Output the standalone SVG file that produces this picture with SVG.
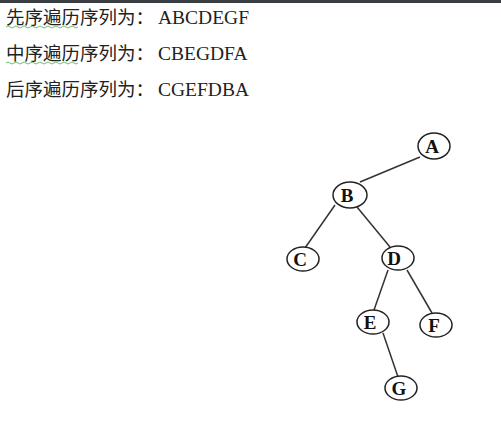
<svg xmlns="http://www.w3.org/2000/svg" width="501" height="448" viewBox="0 0 501 448">
<defs>
<style>
.cn{font-family:"Noto Sans CJK SC","Noto Sans",sans-serif;font-size:18.5px;fill:#222}
.en{font-family:"Liberation Serif","Times New Roman",serif;font-size:19.5px;fill:#222}
.node ellipse{fill:#fff;stroke:#222;stroke-width:1.5}
.node text{font-family:"Liberation Serif",serif;font-size:19px;font-weight:bold;fill:#111;text-anchor:middle}
.edges line{stroke:#333;stroke-width:1.5}
.sq{fill:none;stroke:#6fbf6f;stroke-width:1}
</style>
</defs>
<rect x="0" y="0" width="501" height="448" fill="#fff"/>
<rect x="0" y="0" width="501" height="3" fill="#3a3d42"/>
<g id="text">
<text x="6" y="24"><tspan class="cn">先序遍历序列为：</tspan><tspan class="en" dx="4">ABCDEGF</tspan></text>
<text x="6" y="60"><tspan class="cn">中序遍历序列为：</tspan><tspan class="en" dx="4">CBEGDFA</tspan></text>
<text x="6" y="96"><tspan class="cn">后序遍历序列为：</tspan><tspan class="en" dx="4">CGEFDBA</tspan></text>
<path class="sq" d="M6 27 q2 -2 4 0 t4 0 t4 0 t4 0 t4 0 t4 0 t4 0 t4 0 t4 0 t4 0 t4 0 t4 0 t4 0 t4 0 t4 0 t4 0 t4 0 t4 0"/>
<path class="sq" d="M6 63 q2 -2 4 0 t4 0 t4 0 t4 0 t4 0 t4 0 t4 0 t4 0 t4 0 t4 0 t4 0 t4 0 t4 0 t4 0 t4 0 t4 0 t4 0 t4 0"/>
</g>
<g class="edges" id="edges">
<line x1="420" y1="157" x2="360" y2="182"/>
<line x1="335" y1="205" x2="305" y2="248"/>
<line x1="357" y1="207" x2="390" y2="247"/>
<line x1="388" y1="270" x2="374" y2="310"/>
<line x1="407" y1="270" x2="432" y2="313"/>
<line x1="383" y1="333" x2="398" y2="377"/>
</g>
<g class="node" id="A"><ellipse cx="434" cy="146" rx="16" ry="13"/><text x="432" y="153">A</text></g>
<g class="node" id="B"><ellipse cx="350" cy="195" rx="17" ry="13"/><text x="347" y="202">B</text></g>
<g class="node" id="C"><ellipse cx="303" cy="259" rx="16" ry="12"/><text x="300" y="266">C</text></g>
<g class="node" id="D"><ellipse cx="398" cy="258" rx="16" ry="12"/><text x="394" y="265">D</text></g>
<g class="node" id="E"><ellipse cx="373" cy="322" rx="16" ry="12"/><text x="370" y="329">E</text></g>
<g class="node" id="F"><ellipse cx="436" cy="325" rx="16" ry="12"/><text x="434" y="332">F</text></g>
<g class="node" id="G"><ellipse cx="401" cy="388" rx="16" ry="12"/><text x="399" y="395">G</text></g>
</svg>
